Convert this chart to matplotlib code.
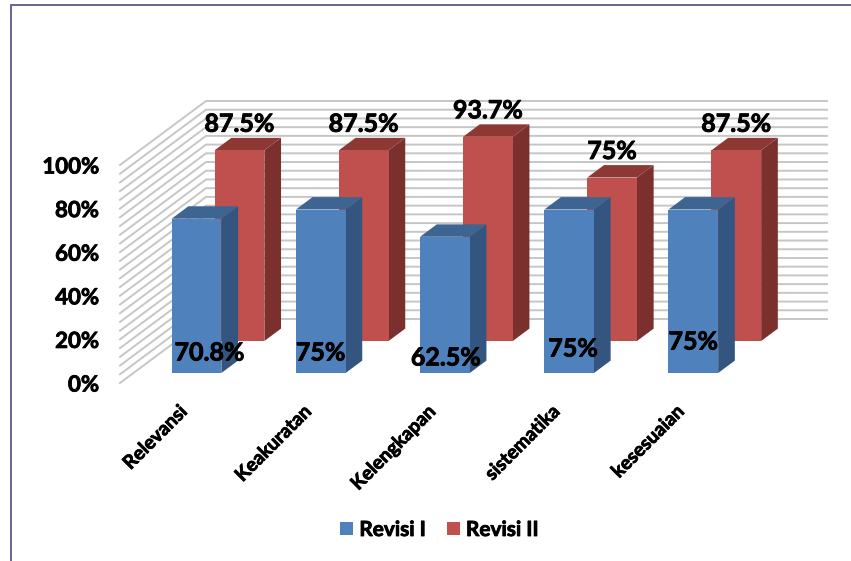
"""
Revisi I / Revisi II, grafik batang gaya 3D (proyeksi oblique)
"""
import numpy as np
import matplotlib
matplotlib.use("Agg")
import matplotlib.pyplot as plt
import matplotlib.patheffects as pe
from matplotlib.patches import Patch, Rectangle

plt.rcParams['font.family'] = ['Lato', 'DejaVu Sans']
plt.rcParams['font.weight'] = 'bold'

categories = ['Relevansi', 'Keakuratan', 'Kelengkapan', 'sistematika', 'kesesuaian']
revisi_1 = [70.8, 75, 62.5, 75, 75]
revisi_2 = [87.5, 87.5, 93.7, 75, 87.5]
label_1 = ['70.8%', '75%', '62.5%', '75%', '75%']
label_2 = ['87.5%', '87.5%', '93.7%', '75%', '87.5%']
y_ticks = [0, 20, 40, 60, 80, 100]

W, H = 851, 561
# skala piksel: kategori 124.2 px, 100% = 218 px, kedalaman penuh = (86, 64) px
PX_X = 124.2
PX_Y = 2.18
DX = 86 / PX_X
DY = 64 / PX_Y
BAR_W = 0.4
BAR_SHIFT = 1 / PX_X
THICK = [pe.withStroke(linewidth=0.6, foreground='black')]

fig = plt.figure(figsize=(W / 100, H / 100), dpi=100)
ax = fig.add_axes([0, 0, 1, 1])
ax.set_xlim(-0.5 - 120 / PX_X, -0.5 + (W - 120) / PX_X)
ax.set_ylim(-(H - 383) / PX_Y, 383 / PX_Y)
ax.axis('off')


def proj(x, v, d):
    return x + d * DX, v + d * DY


def draw_bar(x, v, d0, d1, face, side, top, z):
    x0, x1 = x - BAR_W / 2 + BAR_SHIFT, x + BAR_W / 2 + BAR_SHIFT
    # sisi kanan
    pts = [proj(x1, 0, d0), proj(x1, 0, d1), proj(x1, v, d1), proj(x1, v, d0)]
    ax.fill(*zip(*pts), color=side, lw=0, zorder=z)
    # atas
    pts = [proj(x0, v, d0), proj(x1, v, d0), proj(x1, v, d1), proj(x0, v, d1)]
    ax.fill(*zip(*pts), color=top, lw=0, zorder=z)
    # depan
    pts = [proj(x0, 0, d0), proj(x1, 0, d0), proj(x1, v, d0), proj(x0, v, d0)]
    ax.fill(*zip(*pts), color=face, lw=0, zorder=z)


# dinding belakang dan samping
for g in np.arange(0, 101, 4):
    ax.plot(*zip(proj(-0.5, g, 0), proj(-0.5, g, 1), proj(4.5, g, 1)),
            color='#c6c6c6', lw=1.4, solid_joinstyle='miter', zorder=1)

pos = np.arange(len(categories))

for i in pos:
    draw_bar(i, revisi_2[i], 0.656, 0.85, '#C0504D', '#7C302E', '#8E3836', 2 + i * 0.01)
for i in pos:
    draw_bar(i, revisi_1[i], 0.156, 0.35, '#4F81BD', '#33557F', '#3E6491', 3 + i * 0.01)

# label nilai
for i in pos:
    ax.annotate(label_2[i], proj(i, revisi_2[i], 0.656), xytext=(1, 26), textcoords='offset pixels',
                ha='center', va='center', fontsize=18, color='black', zorder=5, path_effects=THICK)

blue_offset = [(14, 20), (1, 20), (2, 15), (5, 24), (1, 31)]
for i in pos:
    ax.annotate(label_1[i], proj(i, 0, 0.156), xytext=blue_offset[i], textcoords='offset pixels',
                ha='center', va='center', fontsize=18, color='black', zorder=5, path_effects=THICK)

# sumbu y
for t in y_ticks:
    ax.annotate('%d%%' % t, (-0.5, t), xytext=(-21, -2), textcoords='offset pixels',
                ha='right', va='center', fontsize=16, color='black', path_effects=THICK)

# label kategori
for i in pos:
    ax.annotate(categories[i], (i, 0), xytext=(-4, -20), textcoords='offset pixels',
                ha='right', va='top', rotation=45, rotation_mode='anchor',
                fontsize=13.8, color='black', path_effects=THICK)

handles = [Patch(facecolor='#4F81BD', lw=0, label='Revisi I'), Patch(facecolor='#C0504D', lw=0, label='Revisi II')]
leg = ax.legend(handles=handles, loc='center', bbox_to_anchor=(439.5 / W, 1 - 530 / H), ncol=2, frameon=False,
                fontsize=15, handlelength=0.62, handleheight=0.62, handletextpad=0.3, columnspacing=1.0)
for t in leg.get_texts():
    t.set_path_effects(THICK)

# bingkai
fig.add_artist(Rectangle((11 / W, -0.1), 1, 1 - 5 / H + 0.1, transform=fig.transFigure,
                         fill=False, ec='#6b6390', lw=1.4))

fig.savefig('out.png', dpi=100)
